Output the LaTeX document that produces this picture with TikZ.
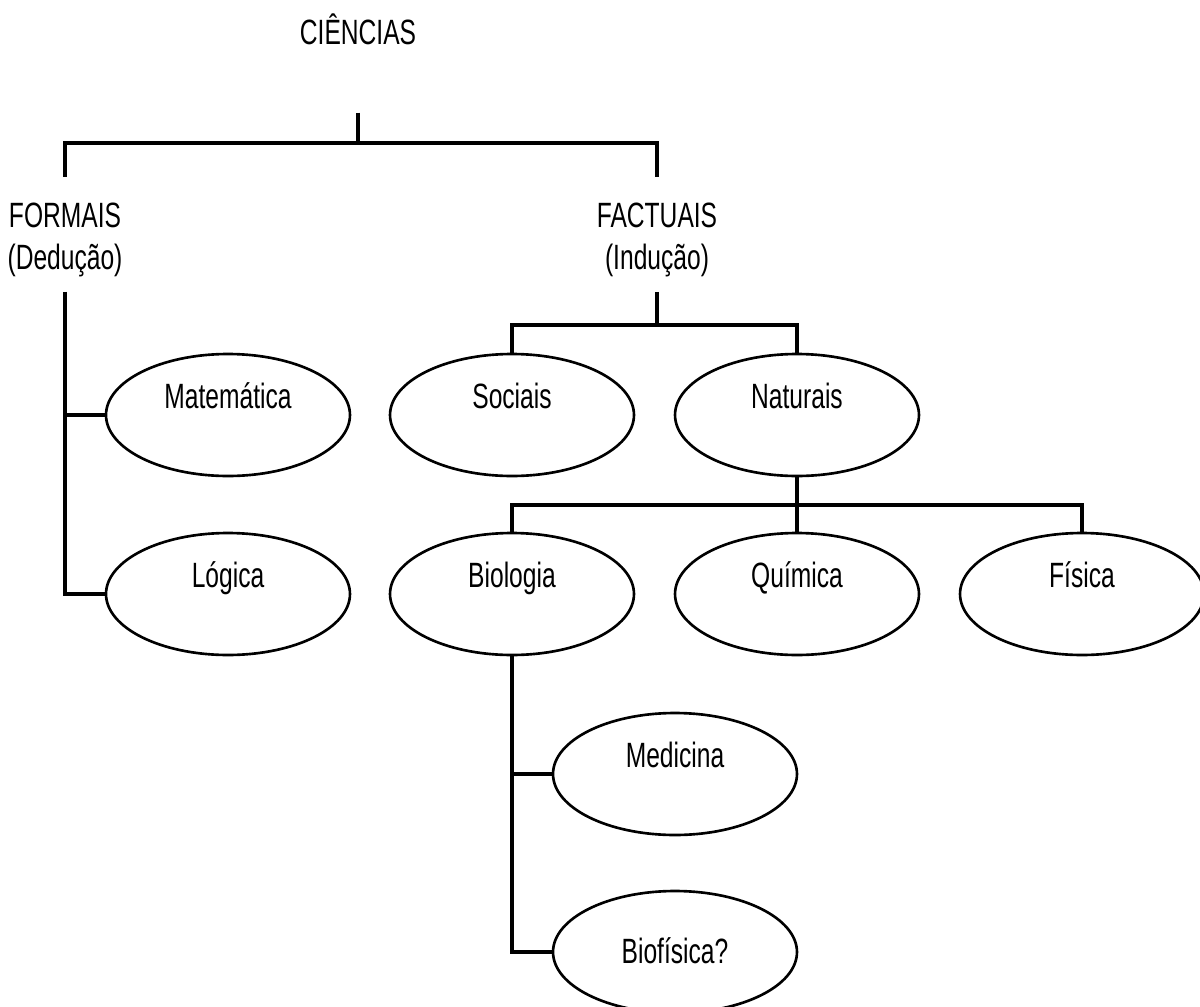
\documentclass[tikz,border=0pt]{standalone}
\usepackage{fontspec}
\setmainfont{Liberation Sans}[FakeStretch=0.7]
\usetikzlibrary{shapes.geometric}

\begin{document}
\begin{tikzpicture}[x=0.02cm, y=-0.02cm]
	\tikzset{link/.style={line width=2pt}, tag/.style={inner sep=0pt, align=center, font=\fontsize{20}{24.4}\selectfont}, oval/.style={ellipse, draw, line width=1.5pt, minimum width=4.88cm, minimum height=2.44cm, inner sep=0pt, text height=0.5cm, text depth=0.78cm, font=\fontsize{20}{24.4}\selectfont} }
	\useasboundingbox (0,0) rectangle (1200,1007);
	
	\node[tag, anchor=base] (cien) at (358,45) {CIÊNCIAS};
	\node[tag] (formais) at (65,240) {FORMAIS\\(Dedução)};
	\node[tag] (factuais) at (657,240) {FACTUAIS\\(Indução)};
	\node[oval] (mat) at (228,415) {Matemática};
	\node[oval] (log) at (228,594) {Lógica};
	\node[oval] (soc) at (512,415) {Sociais};
	\node[oval] (nat) at (797,415) {Naturais};
	\node[oval] (bio) at (512,594) {Biologia};
	\node[oval] (qui) at (797,594) {Química};
	\node[oval] (fis) at (1082,594) {Física};
	\node[oval] (med) at (675,774) {Medicina};
	\node[oval, text depth=0.06cm] (biof) at (675,952) {Biofísica?};
	
	\coordinate (rootfork) at (358,143);
	\coordinate (factfork) at (657,325);
	\coordinate (natfork) at (797,505);
	
	\draw[link, shorten <=1.34cm] (cien) -- (rootfork);
	\draw[link, shorten >=0.5cm] (rootfork) -| (formais);
	\draw[link, shorten >=0.5cm] (rootfork) -| (factuais);
	\draw[link, shorten <=0.28cm] (formais) |- (mat);
	\draw[link, shorten <=0.28cm] (formais) |- (log);
	\draw[link, shorten <=0.28cm] (factuais) -- (factfork);
	\draw[link] (factfork) -| (soc);
	\draw[link] (factfork) -| (nat);
	\draw[link] (nat) -- (natfork);
	\draw[link] (natfork) -| (bio);
	\draw[link] (natfork) -| (qui);
	\draw[link] (natfork) -| (fis);
	\draw[link] (bio) |- (med);
	\draw[link] (bio) |- (biof);
\end{tikzpicture}
\end{document}
